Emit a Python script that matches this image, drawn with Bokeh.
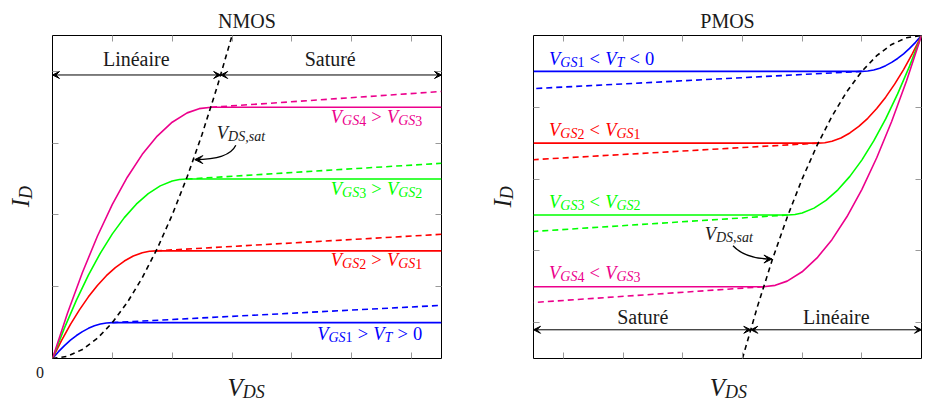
import math
from bokeh.plotting import figure
from bokeh.models import Range1d, LinearAxis, FixedTicker, Label, Arrow, VeeHead
from bokeh.layouts import row
from bokeh.embed import file_html
from bokeh.resources import INLINE

# ---------------- data ----------------
nmos_blue_x = [0, 0.1, 0.2, 0.3, 0.4, 0.5, 0.6, 0.7, 0.8, 0.9, 1.0, 6.5]
nmos_blue_y = [0, 0.095, 0.18, 0.255, 0.32, 0.375, 0.42, 0.455, 0.48, 0.495, 0.5, 0.5]
nmos_red_x = [0, 0.15, 0.3, 0.45, 0.6, 0.75, 0.9, 1.05, 1.2, 1.35, 1.5, 1.62, 1.73, 6.5]
nmos_red_y = [0, 0.249, 0.475, 0.678, 0.859, 1.018, 1.154, 1.267, 1.358, 1.427, 1.473, 1.494, 1.5, 1.5]
nmos_green_x = [0, 0.2, 0.4, 0.6, 0.8, 1.0, 1.2, 1.4, 1.6, 1.8, 2.0, 2.12, 2.24, 6.5]
nmos_green_y = [0, 0.427, 0.814, 1.162, 1.469, 1.736, 1.963, 2.15, 2.298, 2.405, 2.472, 2.493, 2.5, 2.5]
nmos_magenta_x = [0, 0.25, 0.5, 0.75, 1.0, 1.25, 1.5, 1.75, 2.0, 2.25, 2.45, 2.65, 6.5]
nmos_magenta_y = [0, 0.63, 1.198, 1.703, 2.146, 2.526, 2.844, 3.099, 3.292, 3.422, 3.481, 3.5, 3.5]
nmos_dash_blue_x, nmos_dash_blue_y = [1.0, 6.5], [0.5, 0.74]
nmos_dash_red_x, nmos_dash_red_y = [1.73, 6.5], [1.5, 1.73]
nmos_dash_green_x, nmos_dash_green_y = [2.24, 6.5], [2.5, 2.72]
nmos_dash_magenta_x, nmos_dash_magenta_y = [2.65, 6.5], [3.5, 3.72]
nmos_sat_x = [0, 0.25, 0.5, 0.75, 1.0, 1.25, 1.5, 1.75, 2.0, 2.25, 2.5, 2.75, 3.0]
nmos_sat_y = [0, 0.031, 0.125, 0.281, 0.5, 0.781, 1.125, 1.531, 2.0, 2.531, 3.125, 3.781, 4.5]

pmos_blue_x = [-6.5, -1.0, -0.9, -0.8, -0.7, -0.6, -0.5, -0.4, -0.3, -0.2, -0.1, 0]
pmos_blue_y = [-0.5, -0.5, -0.495, -0.48, -0.455, -0.42, -0.375, -0.32, -0.255, -0.18, -0.095, 0]
pmos_red_x = [-6.5, -1.73, -1.62, -1.5, -1.35, -1.2, -1.05, -0.9, -0.75, -0.6, -0.45, -0.3, -0.15, 0]
pmos_red_y = [-1.5, -1.5, -1.494, -1.473, -1.427, -1.358, -1.267, -1.154, -1.018, -0.859, -0.678, -0.475, -0.249, 0]
pmos_green_x = [-6.5, -2.24, -2.12, -2.0, -1.8, -1.6, -1.4, -1.2, -1.0, -0.8, -0.6, -0.4, -0.2, 0]
pmos_green_y = [-2.5, -2.5, -2.493, -2.472, -2.405, -2.298, -2.15, -1.963, -1.736, -1.469, -1.162, -0.814, -0.427, 0]
pmos_magenta_x = [-6.5, -2.65, -2.45, -2.25, -2.0, -1.75, -1.5, -1.25, -1.0, -0.75, -0.5, -0.25, 0]
pmos_magenta_y = [-3.5, -3.5, -3.481, -3.422, -3.292, -3.099, -2.844, -2.526, -2.146, -1.703, -1.198, -0.63, 0]
pmos_dash_blue_x, pmos_dash_blue_y = [-1.0, -6.5], [-0.5, -0.74]
pmos_dash_red_x, pmos_dash_red_y = [-1.73, -6.5], [-1.5, -1.73]
pmos_dash_green_x, pmos_dash_green_y = [-2.24, -6.5], [-2.5, -2.73]
pmos_dash_magenta_x, pmos_dash_magenta_y = [-2.65, -6.5], [-3.5, -3.72]
pmos_sat_x = [-3.0, -2.75, -2.5, -2.25, -2.0, -1.75, -1.5, -1.25, -1.0, -0.75, -0.5, -0.25, 0]
pmos_sat_y = [-4.5, -3.781, -3.125, -2.531, -2.0, -1.531, -1.125, -0.781, -0.5, -0.281, -0.125, -0.031, 0]

nmos_xticks = [1, 2, 3, 4, 5, 6]
nmos_yticks = [1, 2, 3, 4]
pmos_xticks = [-6, -5, -4, -3, -2, -1]
pmos_yticks = [-4, -3, -2, -1]

nmos_region = (3.95, 0.0, 2.81, 6.5)
pmos_region = (-4.1, -6.5, -2.86, 0.0)

nmos_labels = [
    [("V", "m"), ("GS", "s"), ("4", "sr"), (">", "rel"), ("V", "m"), ("GS", "s"), ("3", "sr")],
    [("V", "m"), ("GS", "s"), ("3", "sr"), (">", "rel"), ("V", "m"), ("GS", "s"), ("2", "sr")],
    [("V", "m"), ("GS", "s"), ("2", "sr"), (">", "rel"), ("V", "m"), ("GS", "s"), ("1", "sr")],
    [("V", "m"), ("GS", "s"), ("1", "sr"), (">", "rel"), ("V", "m"), ("T", "s"), (">", "rel"), ("0", "mr")],
]
nmos_label_y = [3.277, 2.27, 1.28, 0.26]
pmos_labels = [
    [("V", "m"), ("GS", "s"), ("1", "sr"), ("<", "rel"), ("V", "m"), ("T", "s"), ("<", "rel"), ("0", "mr")],
    [("V", "m"), ("GS", "s"), ("2", "sr"), ("<", "rel"), ("V", "m"), ("GS", "s"), ("1", "sr")],
    [("V", "m"), ("GS", "s"), ("3", "sr"), ("<", "rel"), ("V", "m"), ("GS", "s"), ("2", "sr")],
    [("V", "m"), ("GS", "s"), ("4", "sr"), ("<", "rel"), ("V", "m"), ("GS", "s"), ("3", "sr")],
]
pmos_label_y = [-0.41, -1.41, -2.40, -3.40]
colors = ["#EC008C", "#00FF00", "#FF0000", "#0000FF"]
pmos_colors = ["#0000FF", "#FF0000", "#00FF00", "#EC008C"]

vdssat = [("V", "m"), ("DS", "s"), (",", "sr"), ("sat", "s")]
vds = [("V", "m"), ("DS", "s")]
i_d = [("I", "m"), ("D", "s")]

nmos_sat_text = (2.745, 3.05)
nmos_sat_curve = (3.063, 2.971, 2.95, 2.771, 2.378, 2.771)
pmos_sat_text = (-3.632, -2.85)
pmos_sat_curve = (-3.158, -2.929, -2.95, -3.114, -2.506, -3.114)

SERIF = "Liberation Serif"
INK = "#1a1a1a"
W_IT = {'V': 0.611, 'G': 0.722, 'S': 0.5, 'T': 0.556, 'D': 0.722, 'I': 0.333,
        ',': 0.25, 's': 0.389, 'a': 0.5, 't': 0.278}
W_RM = {'0': 0.5, '1': 0.5, '2': 0.5, '3': 0.5, '4': 0.5, '<': 0.564, '>': 0.564, ',': 0.25}
BASE_FIX = 0.3375  # em shift so that the anchor is the alphabetic baseline


def tw(s, size, italic):
    tab = W_IT if italic else W_RM
    return sum(tab.get(c, 0.5) for c in s) * size


def add_math(p, x, y, pieces, color, F, S, drop, align="left", rotated=False, mode="center"):
    items = []
    pos = 0.0
    for txt, role in pieces:
        if role == "rel":
            pos += 0.278 * F
            items.append((txt, pos, 0, F, "normal"))
            pos += tw(txt, F, False) + 0.278 * F
        elif role == "m":
            items.append((txt, pos, 0, F, "italic"))
            pos += tw(txt, F, True)
        elif role == "mr":
            items.append((txt, pos, 0, F, "normal"))
            pos += tw(txt, F, False)
        elif role == "s":
            items.append((txt, pos, -drop, S, "italic"))
            pos += tw(txt, S, True)
        elif role == "sr":
            items.append((txt, pos, -drop, S, "normal"))
            pos += tw(txt, S, False)
    start = 0.0
    if align == "right":
        start = -pos
    elif align == "center":
        start = -pos / 2
    for txt, dx, dy, size, style in items:
        up = dy + BASE_FIX * size
        if rotated:
            xo, yo, ang = -up, start + dx, math.pi / 2
        else:
            xo, yo, ang = start + dx, up, 0
        lab = Label(x=x, y=y, x_offset=xo, y_offset=yo, text=txt, angle=ang,
                    text_font=SERIF, text_font_size=f"{size}px",
                    text_font_style=style, text_color=color,
                    text_baseline="alphabetic", text_align="left")
        p.add_layout(lab, mode)


def plain(p, x, y, txt, size, align="center", color=INK, mode="center"):
    p.add_layout(Label(x=x, y=y, y_offset=BASE_FIX * size, text=txt, text_font=SERIF,
                       text_font_size=f"{size}px", text_color=color,
                       text_baseline="alphabetic", text_align=align), mode)


def setup_axes(p, xt, yt):
    p.add_layout(LinearAxis(), "above")
    p.add_layout(LinearAxis(), "right")
    for ax in list(p.xaxis):
        ax.ticker = FixedTicker(ticks=xt)
        ax.major_label_overrides = {t: "" for t in xt}
    for ax in list(p.yaxis):
        ax.ticker = FixedTicker(ticks=yt)
        ax.major_label_overrides = {t: "" for t in yt}
    for ax in list(p.xaxis) + list(p.yaxis):
        ax.axis_line_color = None
        ax.major_tick_in = 6
        ax.major_tick_out = 0
        ax.minor_tick_in = 0
        ax.minor_tick_out = 0
        ax.minor_tick_line_color = None
        ax.major_tick_line_color = "#999999"
        ax.major_tick_line_width = 1
        ax.major_label_text_font_size = "1px"
        ax.major_label_standoff = 0
    p.xgrid.visible = False
    p.ygrid.visible = False
    p.outline_line_color = "black"
    p.outline_line_width = 1
    p.outline_line_alpha = 1


def region_arrows(p, reg, left_txt, right_txt, txt_y, left_cx, right_cx):
    y, xl, xs, xr = reg
    for a, b in [(xl, xs), (xs, xr)]:
        p.add_layout(Arrow(x_start=a, y_start=y, x_end=b, y_end=y, line_width=1, line_color="black",
                           start=VeeHead(size=7, line_color="black", fill_color="black", line_width=1),
                           end=VeeHead(size=7, line_color="black", fill_color="black", line_width=1)))
    plain(p, left_cx, txt_y, left_txt, 20)
    plain(p, right_cx, txt_y, right_txt, 20)


def sat_arrow(p, c):
    x0, y0, cx, cy, x1, y1 = c
    p.quadratic(x0=[x0], y0=[y0], cx=[cx], cy=[cy], x1=[x1], y1=[y1], line_color="black", line_width=1.3)
    dxdir = 1 if x1 > cx else -1
    p.add_layout(Arrow(x_start=x1 - dxdir * 0.05, y_start=y1, x_end=x1, y_end=y1, line_width=1.3,
                       line_color="black",
                       end=VeeHead(size=8, line_color="black", fill_color="black", line_width=1)))


def set_title(p, txt):
    p.title.text = txt
    p.title.text_font = SERIF
    p.title.text_font_size = "20px"
    p.title.text_font_style = "normal"
    p.title.text_color = INK
    p.title.align = "center"
    p.title.standoff = 7
    p.title.offset = 4


LW = 1.6
DASH = "6 4"
FM, FS, DR = 18.5, 14, 2.0

# ---------------- NMOS ----------------
p1 = figure(frame_width=389, frame_height=323, min_border_left=52, min_border_right=40,
            min_border_top=35, min_border_bottom=47, x_range=Range1d(0, 6.5), y_range=Range1d(0, 4.5),
            toolbar_location=None, output_backend="svg")
set_title(p1, "NMOS")
setup_axes(p1, nmos_xticks, nmos_yticks)
for xs_, ys_, xd, yd, c in [
    (nmos_blue_x, nmos_blue_y, nmos_dash_blue_x, nmos_dash_blue_y, "#0000FF"),
    (nmos_red_x, nmos_red_y, nmos_dash_red_x, nmos_dash_red_y, "#FF0000"),
    (nmos_green_x, nmos_green_y, nmos_dash_green_x, nmos_dash_green_y, "#00FF00"),
    (nmos_magenta_x, nmos_magenta_y, nmos_dash_magenta_x, nmos_dash_magenta_y, "#EC008C"),
]:
    p1.line(xd, yd, line_color=c, line_width=LW, line_dash=DASH)
    p1.line(xs_, ys_, line_color=c, line_width=LW)
p1.line(nmos_sat_x, nmos_sat_y, line_color="black", line_width=LW, line_dash="5 4")
region_arrows(p1, nmos_region, "Linéaire", "Saturé", 4.08, 1.40, 4.64)
for pcs, yy, c in zip(nmos_labels, nmos_label_y, colors):
    add_math(p1, 6.18, yy, pcs, c, FM, FS, DR, align="right")
add_math(p1, nmos_sat_text[0], nmos_sat_text[1], vdssat, INK, FM, FS, DR)
sat_arrow(p1, nmos_sat_curve)
plain(p1, -0.209, -0.27, "0", 16, mode="below")
add_math(p1, 2.924, -0.515, vds, INK, 25, 18, 3.0, mode="below")
add_math(p1, -0.396, 2.106, i_d, INK, 25, 18, 3.0, rotated=True, mode="left")

# ---------------- PMOS ----------------
p2 = figure(frame_width=388, frame_height=323, min_border_left=52, min_border_right=5,
            min_border_top=35, min_border_bottom=47, x_range=Range1d(-6.5, 0), y_range=Range1d(-4.5, 0),
            toolbar_location=None, output_backend="svg")
set_title(p2, "PMOS")
setup_axes(p2, pmos_xticks, pmos_yticks)
for xs_, ys_, xd, yd, c in [
    (pmos_blue_x, pmos_blue_y, pmos_dash_blue_x, pmos_dash_blue_y, "#0000FF"),
    (pmos_red_x, pmos_red_y, pmos_dash_red_x, pmos_dash_red_y, "#FF0000"),
    (pmos_green_x, pmos_green_y, pmos_dash_green_x, pmos_dash_green_y, "#00FF00"),
    (pmos_magenta_x, pmos_magenta_y, pmos_dash_magenta_x, pmos_dash_magenta_y, "#EC008C"),
]:
    p2.line(xd, yd, line_color=c, line_width=LW, line_dash=DASH)
    p2.line(xs_, ys_, line_color=c, line_width=LW)
p2.line(pmos_sat_x, pmos_sat_y, line_color="black", line_width=LW, line_dash="5 4")
region_arrows(p2, pmos_region, "Saturé", "Linéaire", -4.01, -4.67, -1.427)
for pcs, yy, c in zip(pmos_labels, pmos_label_y, pmos_colors):
    add_math(p2, -6.24, yy, pcs, c, FM, FS, DR, align="left")
add_math(p2, pmos_sat_text[0], pmos_sat_text[1], vdssat, INK, FM, FS, DR)
sat_arrow(p2, pmos_sat_curve)
add_math(p2, -3.546, -5.015, vds, INK, 25, 18, 3.0, mode="below")
add_math(p2, -6.885, -2.396, i_d, INK, 25, 18, 3.0, rotated=True, mode="left")

layout = row(p1, p2)
open("out.html", "w").write(file_html(layout, INLINE))
